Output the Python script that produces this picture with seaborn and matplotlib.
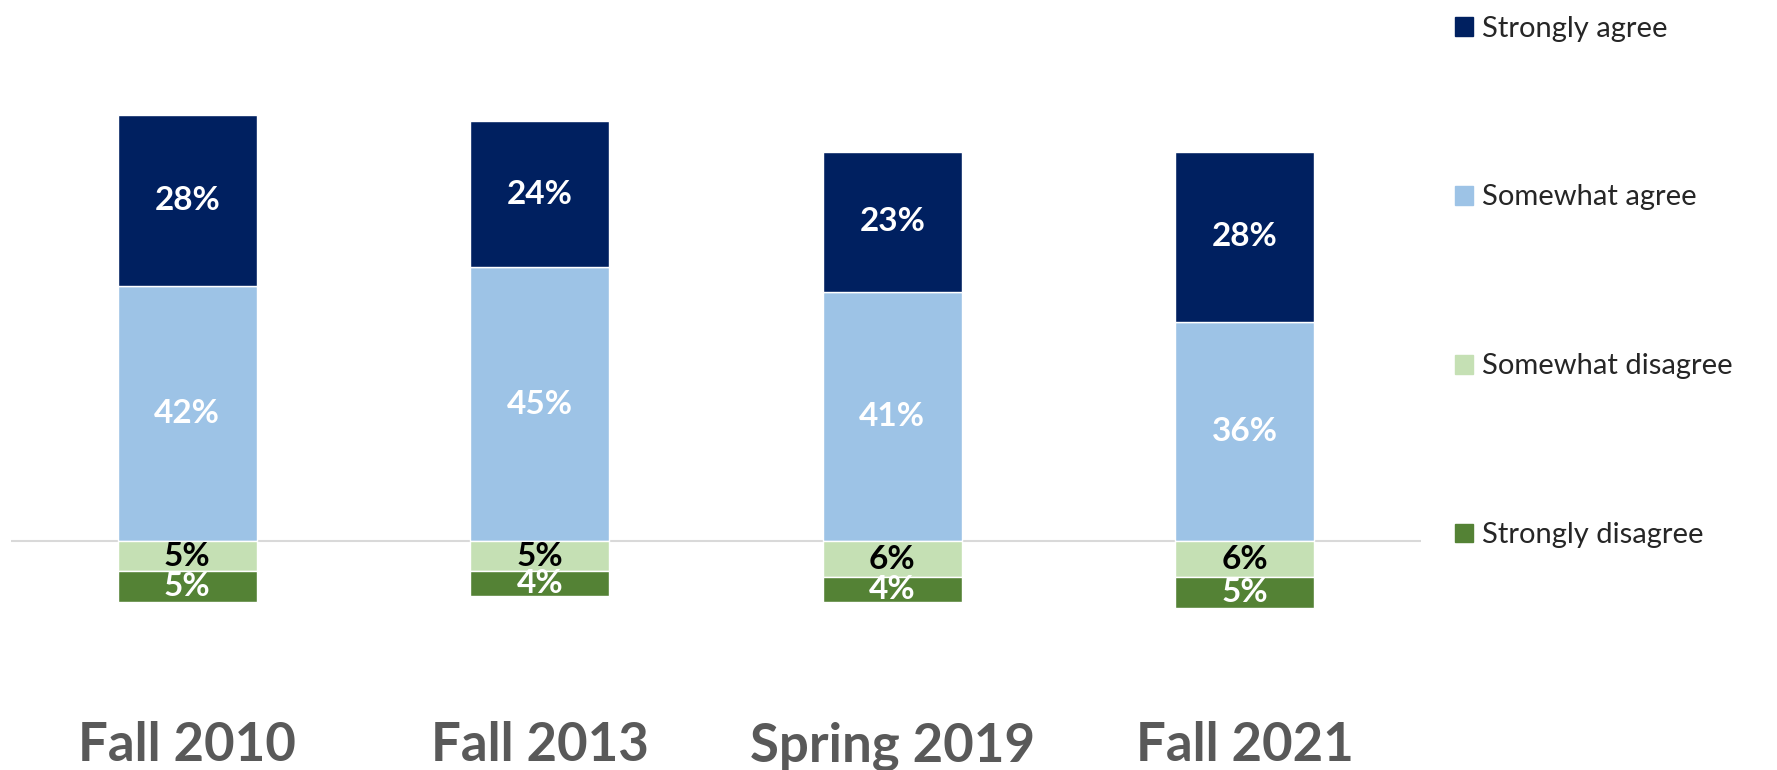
import numpy as np
import pandas as pd
import seaborn as sns
import matplotlib.pyplot as plt
import matplotlib.patches as mpatches

# ---- data ----
terms = ["Fall 2010", "Fall 2013", "Spring 2019", "Fall 2021"]
strongly_agree = [28, 24, 23, 28]
somewhat_agree = [42, 45, 41, 36]
somewhat_disagree = [5, 5, 6, 6]
strongly_disagree = [5, 4, 4, 5]

series_names = ["Strongly agree", "Somewhat agree", "Somewhat disagree", "Strongly disagree"]
colors = {"Strongly agree": "#002060", "Somewhat agree": "#9DC3E6",
          "Somewhat disagree": "#C5E0B4", "Strongly disagree": "#548235"}
label_colors = {"Strongly agree": "white", "Somewhat agree": "white",
                "Somewhat disagree": "black", "Strongly disagree": "white"}

sns.set_style("white")
plt.rcParams["font.family"] = ["Lato", "DejaVu Sans"]

df = pd.DataFrame({"term": terms,
                   "sa": strongly_agree, "wa": somewhat_agree,
                   "wd": somewhat_disagree, "sd": strongly_disagree})

fig = plt.figure(figsize=(17.77, 7.70), dpi=100)
ax = fig.add_axes([11 / 1777, 0.179, 1410 / 1777, 0.687])

# agree side stacks up from zero, disagree side stacks down
layers = [
    ("Somewhat agree", df["wa"], np.zeros(len(df))),
    ("Strongly agree", df["sa"], df["wa"].to_numpy()),
    ("Somewhat disagree", -df["wd"], np.zeros(len(df))),
    ("Strongly disagree", -df["sd"], -df["wd"].to_numpy()),
]
for name, vals, base in layers:
    sns.barplot(x=df["term"], y=vals, order=terms, color=colors[name],
                saturation=1, errorbar=None, width=0.394, bottom=base, ax=ax)
    cont = ax.containers[-1]
    ax.bar_label(cont, labels=[f"{abs(v)}%" for v in vals], label_type="center",
                 color=label_colors[name], fontsize=24, fontweight="bold")

ax.axhline(0, color="#D9D9D9", linewidth=1.5, zorder=0)
ax.set_xlim(-0.5, 3.5)
ax.set_ylim(-15, 72)
ax.set_xlabel("")
ax.set_ylabel("")
ax.set_yticks([])
ax.tick_params(axis="x", length=0, pad=64, labelsize=38, labelcolor="#595959")
for t in ax.get_xticklabels():
    t.set_fontweight("bold")
sns.despine(ax=ax, left=True, bottom=True)

handles = [mpatches.Patch(color=colors[n], label=n) for n in series_names]
fig.legend(handles=handles, loc="upper left", bbox_to_anchor=(1455 / 1777, 1 - 15.5 / 770),
           frameon=False, fontsize=21, handlelength=0.62, handleheight=0.62,
           handletextpad=0.3, labelspacing=4.9, borderpad=0, borderaxespad=0)

fig.savefig("out.png", dpi=100, facecolor="white")
